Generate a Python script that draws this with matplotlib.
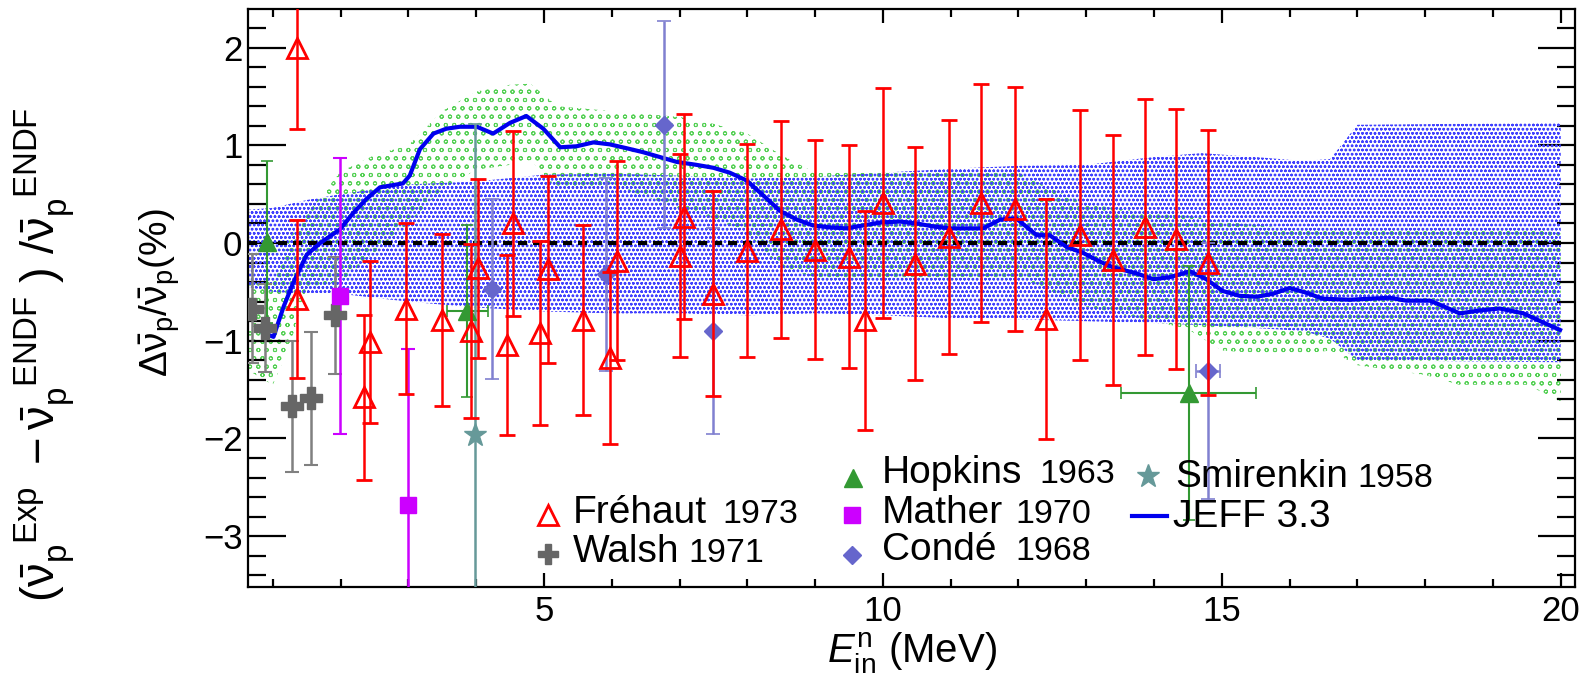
import matplotlib
matplotlib.use('Agg')
import matplotlib.pyplot as plt
from matplotlib.lines import Line2D
from matplotlib.ticker import MultipleLocator

plt.rcParams['font.family'] = ['Liberation Sans', 'DejaVu Sans']
plt.rcParams['mathtext.fontset'] = 'custom'
plt.rcParams['mathtext.rm'] = 'Liberation Sans'
plt.rcParams['mathtext.it'] = 'Liberation Sans:italic'
plt.rcParams['mathtext.bf'] = 'Liberation Sans:bold'
plt.rcParams['hatch.linewidth'] = 0.7

# Frehaut 1973
fre_E = [1.36, 1.36, 2.35, 2.43, 2.96, 3.49, 3.93, 4.03, 4.45, 4.55, 4.94, 5.06, 5.58, 5.98, 6.08,
         7.01, 7.06, 7.50, 7.99, 8.50, 9.00, 9.50, 9.74, 10.00, 10.47, 10.98, 11.45, 11.95, 12.41,
         12.91, 13.40, 13.86, 14.33, 14.80]
fre_dv = [2.00, -0.57, -1.58, -1.01, -0.67, -0.79, -0.90, -0.26, -1.04, 0.20, -0.92, -0.27, -0.79,
          -1.18, -0.18, -0.13, 0.27, -0.52, -0.08, 0.14, -0.07, -0.14, -0.79, 0.41, -0.21, 0.06, 0.41,
          0.35, -0.78, 0.08, -0.17, 0.16, 0.04, -0.20]
fre_err = [0.83, 0.81, 0.84, 0.83, 0.88, 0.88, 0.89, 0.92, 0.92, 0.95, 0.94, 0.96, 0.97, 0.88, 1.02,
           1.04, 1.05, 1.05, 1.09, 1.11, 1.12, 1.14, 1.12, 1.18, 1.19, 1.20, 1.22, 1.25, 1.23, 1.28,
           1.28, 1.31, 1.33, 1.36]

# Walsh 1971
wal_E = [0.70, 0.88, 1.29, 1.57, 1.92]
wal_dv = [-0.67, -0.87, -1.67, -1.59, -0.74]
wal_err = [0.56, 0.45, 0.67, 0.68, 0.60]

# Mather 1970
mat_E = [1.99, 2.99]
mat_dv = [-0.54, -2.68]
mat_err = [1.41, 1.60]

# Hopkins 1963
hop_E = [0.91, 3.87, 14.51]
hop_dv = [0.01, -0.70, -1.53]
hop_err = [0.83, 0.88, 1.30]
hop_xerr = [0.0, 0.30, 1.0]

# Conde 1968
con_E = [4.23, 5.91, 6.77, 7.50, 14.80]
con_dv = [-0.47, -0.32, 1.21, -0.90, -1.31]
con_err = [0.92, 0.99, 1.06, 1.05, 1.31]
con_xerr = [0.0, 0.0, 0.0, 0.0, 0.18]

# Smirenkin 1958
smi_E = [3.98]
smi_dv = [-1.96]
smi_err = [3.18]

# JEFF 3.3
jeff_E = [0.86, 1.01, 1.16, 1.30, 1.50, 1.70, 1.99, 2.19, 2.38, 2.58, 2.92, 3.02, 3.17, 3.37, 3.56,
          3.76, 4.01, 4.25, 4.50, 4.74, 4.99, 5.24, 5.48, 5.73, 5.97, 6.22, 6.46, 6.71, 6.96, 7.25,
          7.50, 7.74, 7.99, 8.23, 8.48, 8.73, 8.97, 9.22, 9.46, 9.71, 9.96, 10.25, 10.50, 10.74,
          10.99, 11.23, 11.48, 11.73, 11.97, 12.27, 12.46, 12.71, 12.95, 13.20, 13.40, 13.74, 13.99,
          14.23, 14.53, 14.77, 15.01, 15.26, 15.51, 15.75, 16.00, 16.25, 16.49, 16.89, 17.48, 17.72,
          18.07, 18.21, 18.51, 18.81, 19.10, 19.45, 19.70, 19.99]
jeff_dv = [-0.92, -0.96, -0.65, -0.41, -0.12, 0.00, 0.14, 0.31, 0.45, 0.57, 0.61, 0.69, 0.96, 1.12,
           1.17, 1.19, 1.19, 1.12, 1.23, 1.30, 1.17, 0.98, 0.99, 1.03, 1.01, 0.97, 0.93, 0.88, 0.83,
           0.80, 0.77, 0.72, 0.64, 0.49, 0.33, 0.24, 0.18, 0.16, 0.15, 0.18, 0.21, 0.22, 0.20, 0.17,
           0.15, 0.15, 0.15, 0.24, 0.25, 0.08, 0.08, -0.04, -0.10, -0.19, -0.25, -0.31, -0.37, -0.35,
           -0.29, -0.37, -0.49, -0.54, -0.55, -0.52, -0.46, -0.51, -0.57, -0.58, -0.56, -0.59, -0.59,
           -0.63, -0.72, -0.69, -0.67, -0.72, -0.80, -0.89]

# ENDF uncertainty band (blue)
blue_E = [0.63, 1.0, 1.5, 2.0, 3.0, 4.0, 5.0, 6.0, 7.0, 8.0, 9.0, 10.0, 11.0, 12.0, 13.0, 14.0, 14.7,
          15.5, 16.2, 16.6, 17.0, 20.0]
blue_hi = [0.34, 0.36, 0.44, 0.50, 0.60, 0.63, 0.70, 0.71, 0.69, 0.66, 0.68, 0.72, 0.76, 0.79, 0.80,
           0.88, 0.92, 0.88, 0.84, 0.86, 1.21, 1.23]
blue_lo = [-0.45, -0.50, -0.52, -0.52, -0.60, -0.66, -0.70, -0.72, -0.72, -0.74, -0.72, -0.74, -0.77,
           -0.78, -0.80, -0.82, -0.84, -0.87, -0.90, -0.98, -1.20, -1.22]

# JEFF uncertainty band (green)
green_E = [0.63, 1.0, 1.25, 1.5, 2.0, 2.5, 3.0, 3.5, 4.0, 4.5, 4.8, 5.2, 6.0, 7.0, 7.5, 8.0, 8.5, 9.0,
           10.0, 11.0, 12.0, 12.5, 13.0, 14.0, 14.5, 15.0, 16.0, 16.6, 17.0, 18.0, 18.5, 19.5, 20.0]
green_hi = [-0.35, -0.40, 0.05, 0.30, 0.73, 0.90, 1.00, 1.35, 1.55, 1.62, 1.63, 1.40, 1.35, 1.29, 1.22,
            1.12, 0.90, 0.72, 0.72, 0.74, 0.72, 0.55, 0.40, 0.30, 0.28, 0.22, 0.15, 0.15, 0.15, 0.15,
            0.15, 0.15, 0.10]
green_lo = [-1.30, -1.45, -1.05, -0.45, -0.40, -0.10, 0.20, 0.55, 0.75, 0.80, 0.85, 0.55, 0.60, 0.35,
            0.25, 0.10, -0.25, -0.35, -0.38, -0.38, -0.35, -0.50, -0.65, -0.80, -0.88, -1.10, -1.15,
            -1.10, -1.25, -1.35, -1.45, -1.45, -1.62]

W, H = 1583, 676
fig = plt.figure(figsize=(W / 100, H / 100), dpi=100)
ax = fig.add_axes([248 / W, 1 - 587 / H, (1575 - 248) / W, (587 - 9) / H])

ax.fill_between(green_E, green_lo, green_hi, facecolor='none', edgecolor='#55d055', hatch='oo',
                linewidth=0, zorder=1)
ax.fill_between(blue_E, blue_lo, blue_hi, facecolor='none', edgecolor='#4040ff', hatch='oooo',
                linewidth=0, zorder=2)
ax.plot([0.63, 20], [0, 0], color='black', lw=3, ls=(0, (2.2, 1.4)), zorder=3)
ax.plot(jeff_E, jeff_dv, color='#0000ee', lw=3, zorder=4)

ax.errorbar(wal_E, wal_dv, yerr=wal_err, fmt='P', ms=16, color='#666666', ecolor='#808080',
            elinewidth=1.8, capsize=5, capthick=1.5, zorder=5)
ax.errorbar(mat_E, mat_dv, yerr=mat_err, fmt='s', ms=11, color='#cc00ff', elinewidth=1.8,
            capsize=5, capthick=1.5, zorder=5)
ax.errorbar(hop_E, hop_dv, xerr=hop_xerr, yerr=hop_err, fmt='^', ms=13, color='#339933',
            elinewidth=1.5, capsize=4, capthick=1.2, zorder=5)
ax.errorbar(con_E, con_dv, xerr=con_xerr, yerr=con_err, fmt='D', ms=9, color='#6666cc',
            ecolor='#8080d0', elinewidth=1.8, capsize=5, capthick=1.2, zorder=5)
ax.errorbar(smi_E, smi_dv, yerr=smi_err, fmt='*', ms=17, color='#669999', elinewidth=1.8,
            capsize=5, capthick=1.2, zorder=5)
ax.errorbar(fre_E, fre_dv, yerr=fre_err, fmt='^', ms=15, mfc='none', mec='red', mew=2,
            ecolor='red', elinewidth=1.8, capsize=6, capthick=1.8, zorder=6)

ax.set_xlim(0.634, 20.21)
ax.set_ylim(-3.52, 2.395)
ax.xaxis.set_major_locator(MultipleLocator(5))
ax.xaxis.set_minor_locator(MultipleLocator(1))
ax.yaxis.set_major_locator(MultipleLocator(1))
ax.yaxis.set_minor_locator(MultipleLocator(0.2))
ax.tick_params(axis='both', which='both', direction='in', top=True, right=True, width=1.6,
               labelsize=25)
ax.tick_params(axis='x', which='major', length=10, pad=6)
ax.tick_params(axis='x', which='minor', length=6)
ax.tick_params(axis='y', which='major', length=27, pad=4)
ax.tick_params(axis='y', which='minor', length=13)
for s in ax.spines.values():
    s.set_linewidth(1.6)

# axis titles
fig.text(45 / W, 1 - 355 / H,
         r'$(\bar{\mathrm{ν}}_{\rm p}^{\ \ \rm Exp}\ -\bar{\mathrm{ν}}_{\rm p}^{\ \ \rm ENDF}\ )\ /\bar{\mathrm{ν}}_{\rm p}^{\ \ \rm ENDF}$',
         rotation=90, ha='center', va='center', fontsize=34)
fig.text(160 / W, 1 - 293 / H, r'$\Delta\bar{\mathrm{ν}}_{\rm p}/\bar{\mathrm{ν}}_{\rm p}$(%)',
         rotation=90, ha='center', va='center', fontsize=28)
fig.text(912 / W, 1 - 653 / H, r'$E^{\rm n}_{\rm in}$ (MeV)', ha='center', va='center', fontsize=29)


# legend, drawn by hand in figure pixels
def fx(px):
    return px / W


def fy(py):
    return 1 - py / H


def leg_marker(px, py, **kw):
    fig.add_artist(Line2D([fx(px)], [fy(py)], transform=fig.transFigure, linestyle='none', **kw))


def leg_text(px, py, name, year, year_px):
    fig.text(fx(px), fy(py), name, fontsize=28, va='baseline')
    if year:
        fig.text(fx(year_px), fy(py), year, fontsize=24.5, va='baseline')


leg_marker(548, 515, marker='^', ms=15, mfc='none', mec='red', mew=2)
leg_text(573, 523, u'Fr\u00e9haut', '1973', 722)
leg_marker(548, 554, marker='P', ms=15, color='#666666')
leg_text(573, 562, 'Walsh', '1971', 688)
leg_marker(853, 478, marker='^', ms=13, color='#339933')
leg_text(882, 483, 'Hopkins', '1963', 1039)
leg_marker(852, 515, marker='s', ms=11, color='#cc00ff')
leg_text(882, 523, 'Mather', '1970', 1015)
leg_marker(852, 555, marker='D', ms=9, color='#6666cc')
leg_text(882, 560, u'Cond\u00e9', '1968', 1015)
leg_marker(1148, 476, marker='*', ms=17, color='#669999')
leg_text(1175, 487, 'Smirenkin', '1958', 1357)
fig.add_artist(Line2D([fx(1132), fx(1167)], [fy(516), fy(516)], transform=fig.transFigure,
                      color='#0000ee', lw=3))
leg_text(1173, 527, 'JEFF 3.3', None, 0)

fig.savefig('out.png', dpi=100)
